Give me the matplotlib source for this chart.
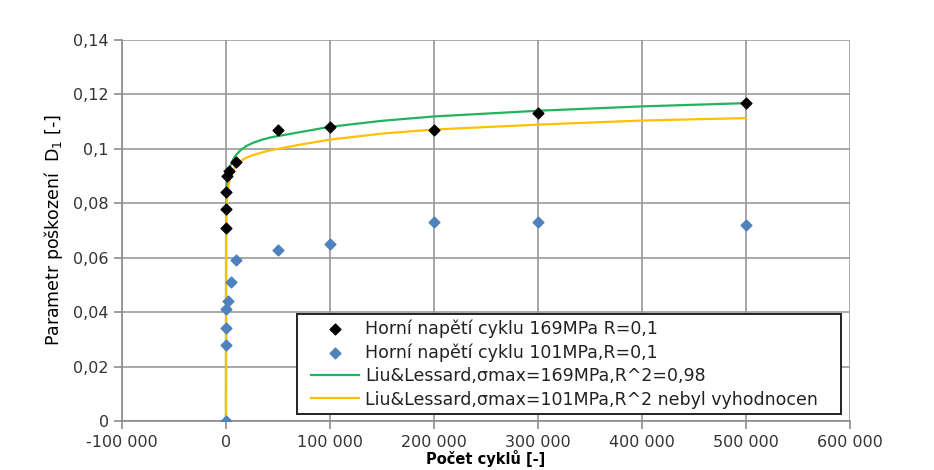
import matplotlib
matplotlib.use("Agg")
import matplotlib.pyplot as plt
from matplotlib.patches import Rectangle
from matplotlib.ticker import FuncFormatter, MultipleLocator

# Data
black_x = [0, 0, 0, 1000, 3000, 10000, 50000, 100000, 200000, 300000, 500000]
black_y = [0.071, 0.078, 0.084, 0.090, 0.092, 0.095, 0.107, 0.108, 0.107, 0.113, 0.117]

blue_x = [0, 0, 0, 0, 2000, 5000, 10000, 50000, 100000, 200000, 300000, 500000]
blue_y = [0.0, 0.028, 0.034, 0.041, 0.044, 0.051, 0.059, 0.063, 0.065, 0.073, 0.073, 0.072]

green_x = [0, 100, 300, 800, 1600, 3000, 4800, 7000, 9600, 14000, 19300, 26000, 34000, 43000,
           53000, 70500, 100000, 150000, 200000, 300000, 400000, 500000]
green_y = [0.0, 0.076, 0.080, 0.085, 0.0895, 0.0925, 0.0943, 0.0962, 0.0977, 0.0995, 0.1010,
           0.1022, 0.1033, 0.1042, 0.1049, 0.1061, 0.1081, 0.1103, 0.1119, 0.1140, 0.1156, 0.1168]

yellow_x = [0, 100, 300, 800, 1600, 3000, 4800, 7000, 9600, 14000, 19300, 26000, 34000, 43000,
            53000, 70500, 100000, 150000, 200000, 300000, 400000, 500000]
yellow_y = [0.0, 0.072, 0.076, 0.081, 0.0844, 0.0878, 0.0903, 0.0924, 0.0940, 0.0955, 0.0967,
            0.0977, 0.0986, 0.0995, 0.1002, 0.1015, 0.1034, 0.1056, 0.1071, 0.1089, 0.1104, 0.1113]

labels = ["Horní napětí cyklu 169MPa R=0,1",
          "Horní napětí cyklu 101MPa,R=0,1",
          "Liu&Lessard,σmax=169MPa,R^2=0,98",
          "Liu&Lessard,σmax=101MPa,R^2 nebyl vyhodnocen"]

plt.rcParams['font.family'] = ['DejaVu Sans']

fig = plt.figure(figsize=(9.34, 4.70), dpi=100)
ax = fig.add_axes([0.1306, 0.1043, 0.7794, 0.8106])

ax.plot(green_x, green_y, color='#22b35c', lw=1.6, zorder=3, label=labels[2])
ax.plot(yellow_x, yellow_y, color='#ffc000', lw=1.6, zorder=3, label=labels[3])
ax.scatter(black_x, black_y, marker='D', s=30, color='black', zorder=4, label=labels[0])
ax.scatter(blue_x, blue_y, marker='D', s=30, color='#4f81bd', zorder=4, label=labels[1])

ax.set_xlim(-100000, 600000)
ax.set_ylim(0, 0.14)
ax.xaxis.set_major_locator(MultipleLocator(100000))
ax.yaxis.set_major_locator(MultipleLocator(0.02))

def fx(v, pos):
    v = int(round(v))
    s = f"{abs(v):,}".replace(",", " ")
    return ("-" if v < 0 else "") + s

def fy(v, pos):
    s = f"{v:.2f}".rstrip("0").rstrip(".")
    return s.replace(".", ",")

ax.xaxis.set_major_formatter(FuncFormatter(fx))
ax.yaxis.set_major_formatter(FuncFormatter(fy))

ax.grid(True, color='#9a9a9a', lw=1.2)
ax.set_axisbelow(True)
for s in ['top', 'right']:
    ax.spines[s].set_visible(False)
for s in ['left', 'bottom']:
    ax.spines[s].set_color('#8c8c8c')
    ax.spines[s].set_linewidth(1.2)
ax.tick_params(axis='both', direction='out', length=6, color='#8c8c8c', width=1.2,
               labelsize=11.5, labelcolor='#333333')
ax.tick_params(axis='x', pad=4)

ax.set_xlabel("Počet cyklů [-]", fontsize=10.5, fontweight='bold', labelpad=0)
ax.set_ylabel("Parametr poškození  D$_1$ [-]", fontsize=12.5,
              family=['Liberation Sans Narrow', 'DejaVu Sans'], labelpad=6)

# legend frame (drawn separately so the side padding can differ from the top padding)
frame = Rectangle((0.2404, 0.0184), 0.7472, 0.2624, transform=ax.transAxes,
                  facecolor='white', edgecolor='#222222', lw=1.4, zorder=5)
ax.add_patch(frame)

handles, lbls = ax.get_legend_handles_labels()
order = [2, 3, 0, 1]
leg = ax.legend([handles[i] for i in order], [lbls[i] for i in order],
                loc='center left', bbox_to_anchor=(0.2537, 0.1496), fontsize=12.5,
                frameon=False, borderpad=0.25, labelspacing=0.31, handlelength=2.77,
                handletextpad=0.35, borderaxespad=0)
leg.set_zorder(6)
for t in leg.get_texts():
    t.set_color('#222222')

fig.savefig("out.png", dpi=100)
